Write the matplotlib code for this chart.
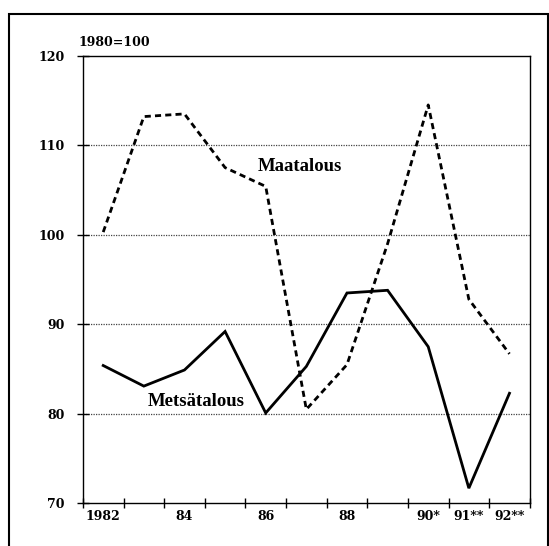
import numpy as np
import matplotlib
matplotlib.use("Agg")
import matplotlib.pyplot as plt
from matplotlib.patches import Rectangle

years = [1982, 1983, 1984, 1985, 1986, 1987, 1988, 1989, 1990, 1991, 1992]
maatalous = [100.3, 113.2, 113.5, 107.5, 105.4, 80.5, 85.5, 99.0, 114.5, 92.8, 86.7]
metsatalous = [85.4, 83.1, 84.9, 89.2, 80.1, 85.3, 93.5, 93.8, 87.5, 71.7, 82.3]
label_years = [1982, 1984, 1986, 1988, 1990, 1991, 1992]
label_text = ["1982", "84", "86", "88", "90*", "91**", "92**"]
yticks = [70, 80, 90, 100, 110, 120]

tickfont = {"family": "DejaVu Serif", "weight": "bold", "size": 9}

fig = plt.figure(figsize=(5.49, 5.46), dpi=100)
ax = fig.add_axes([0.151, 0.078, 0.814, 0.820])

x = np.arange(len(years))
ax.plot(x, metsatalous, color="k", lw=2.0, solid_joinstyle="miter")
ax.plot(x, maatalous, color="k", lw=2.0, linestyle=(0, (2.2, 1.5)))

ax.set_xlim(-0.5, len(years) - 0.5)
ax.set_ylim(70, 120)

# category boundaries as ticks, labels centred in between
ax.set_xticks(np.arange(-0.5, len(years), 1.0), minor=True)
ax.set_xticks([years.index(y) for y in label_years])
ax.set_xticklabels(label_text, fontdict=tickfont)
ax.tick_params(axis="x", which="major", length=0, pad=4.5)
ax.tick_params(axis="x", which="minor", direction="inout", length=7, width=1)

ax.set_yticks(yticks)
ax.set_yticklabels([str(v) for v in yticks], fontdict=tickfont)
ax.tick_params(axis="y", direction="inout", length=8, width=1, pad=9)

for v in yticks[1:-1]:
    ax.axhline(v, color="#444444", lw=0.9, linestyle=(0, (1, 1)), zorder=0)

for s in ax.spines.values():
    s.set_linewidth(1.0)

ax.text(-0.009, 1.030, "1980=100", transform=ax.transAxes, ha="left", va="center",
        fontdict=tickfont)
ax.text(4.84, 107.6, "Maatalous", ha="center", va="center",
        family="Liberation Serif", weight="bold", size=13.5)
ax.text(2.28, 81.4, "Metsätalous", ha="center", va="center",
        family="Liberation Serif", weight="bold", size=13.5)

fig.patches.append(Rectangle((0.017, -0.05), 0.981, 1.024, transform=fig.transFigure,
                             fill=False, edgecolor="k", lw=1.5))

fig.savefig("out.png", dpi=100)
